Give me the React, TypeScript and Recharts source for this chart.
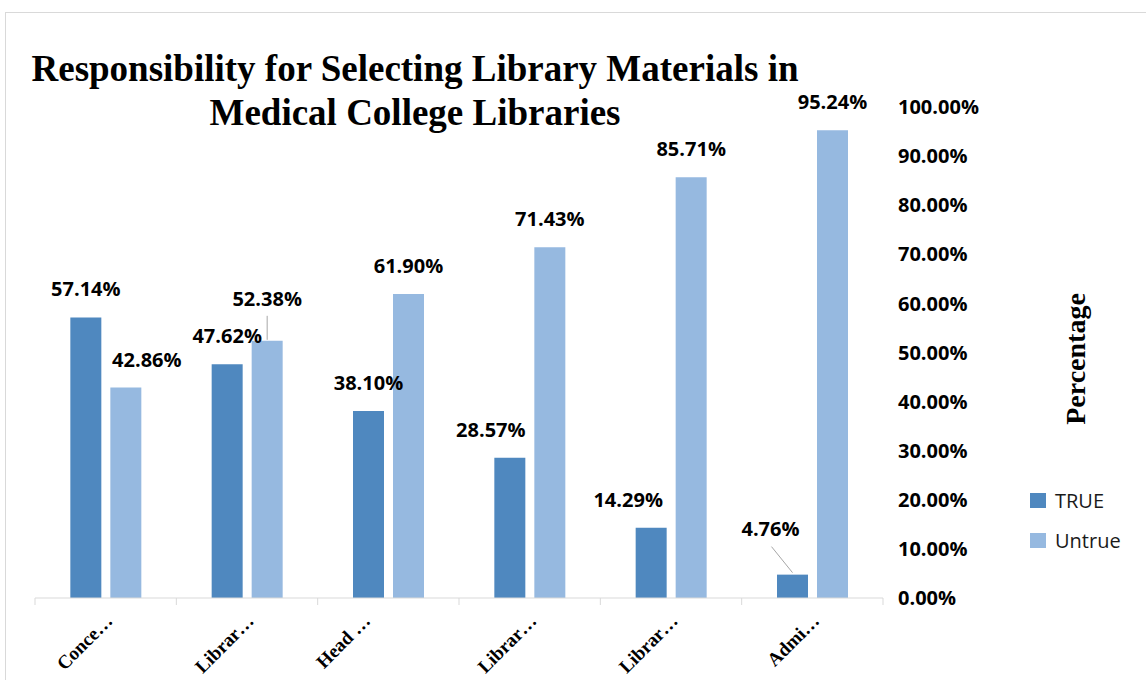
import { Bar, BarChart, XAxis, YAxis, Legend, LabelList } from "recharts"

const categories = ["Conce…", "Librar…", "Head …", "Librar…", "Librar…", "Admi…"]
const trueValues = [57.14, 47.62, 38.1, 28.57, 14.29, 4.76]
const untrueValues = [42.86, 52.38, 61.9, 71.43, 85.71, 95.24]
const yTicks = [0, 10, 20, 30, 40, 50, 60, 70, 80, 90, 100]

const data = categories.map((name, i) => ({
  name,
  TRUE: trueValues[i],
  Untrue: untrueValues[i],
}))

const W = 1146
const H = 680
const LEFT = 35
const AXIS_W = 263
const BAND = (W - LEFT - AXIS_W) / categories.length
const SERIF = '"Liberation Serif", "Times New Roman", serif'
const SANS = '"Open Sans", sans-serif'
const DARK = "#4f88bf"
const LIGHT = "#96b9e0"

// the "Head …" label sits further left than the others in the original
const tickShift = [0, 0, -25, 0, 0, 0]

function CategoryTick(props: any) {
  const { x, y, payload, index } = props
  const half = BAND / 2
  const ax = x + 8 + (tickShift[index] || 0)
  const ay = y + 24
  return (
    <g>
      <line x1={x - half} y1={y} x2={x - half} y2={y + 7} stroke="#d9d9d9" />
      {index === categories.length - 1 && (
        <line x1={x + half} y1={y} x2={x + half} y2={y + 7} stroke="#d9d9d9" />
      )}
      <text
        x={ax}
        y={ay}
        textAnchor="end"
        transform={`rotate(-45, ${ax}, ${ay})`}
        fontFamily={SERIF}
        fontWeight={700}
        fontSize={19}
        fill="#000"
      >
        {payload.value}
      </text>
    </g>
  )
}

function makeLabel(series: "TRUE" | "Untrue") {
  return (props: any) => {
    const x = Number(props.x)
    const y = Number(props.y)
    const width = Number(props.width)
    const { value, index } = props
    const cx = x + width / 2
    let tx = cx
    let ty = y - 21
    let leader = null
    if (series === "Untrue" && index === 0) tx = cx + 21
    if (series === "TRUE" && index === 3) tx = cx - 19
    if (series === "TRUE" && index === 4) tx = cx - 23
    if (series === "Untrue" && index === 1) {
      ty = y - 35
      leader = <line x1={cx} y1={y - 25} x2={cx} y2={y - 1} stroke="#a6a6a6" />
    }
    if (series === "TRUE" && index === 5) {
      tx = cx - 22
      ty = y - 39
      leader = <line x1={cx - 21} y1={y - 28} x2={cx} y2={y - 2} stroke="#a6a6a6" />
    }
    return (
      <g>
        {leader}
        <text x={tx} y={ty} textAnchor="middle" fontFamily={SANS} fontWeight={700} fontSize={20} fill="#000">
          {Number(value).toFixed(2)}%
        </text>
      </g>
    )
  }
}

function LegendContent(props: any) {
  const { payload } = props
  return (
    <div>
      {payload.map((p: any) => (
        <div key={p.value} style={{ display: "flex", alignItems: "center", height: 40 }}>
          <span style={{ width: 16, height: 15, background: p.color, display: "inline-block" }} />
          <span style={{ marginLeft: 9, fontFamily: SANS, fontSize: 20, color: "#1a1a1a" }}>{p.value}</span>
        </div>
      ))}
    </div>
  )
}

export default function App() {
  return (
    <div style={{ position: "absolute", left: 0, top: 0, width: W, height: H, background: "#fff", overflow: "hidden" }}>
      <div
        style={{
          position: "absolute",
          left: 5,
          top: 12,
          width: W,
          height: H,
          borderTop: "1px solid #d9d9d9",
          borderLeft: "1px solid #d9d9d9",
        }}
      />
      <div
        style={{
          position: "absolute",
          left: 0,
          top: 47,
          width: 830,
          textAlign: "center",
          fontFamily: SERIF,
          fontWeight: 700,
          fontSize: 37,
          lineHeight: "44px",
          color: "#000",
        }}
      >
        Responsibility for Selecting Library Materials in
        <br />
        Medical College Libraries
      </div>
      <div
        style={{
          position: "absolute",
          left: 1076,
          top: 359,
          transform: "translate(-50%, -50%) rotate(-90deg)",
          whiteSpace: "nowrap",
          fontFamily: SERIF,
          fontWeight: 700,
          fontSize: 28,
          color: "#000",
        }}
      >
        Percentage
      </div>
      <div style={{ position: "absolute", left: 0, top: 0 }}>
        <BarChart
          width={W}
          height={H}
          data={data}
          margin={{ top: 107, right: 0, bottom: 0, left: LEFT }}
          barCategoryGap="25%"
          barGap={9}
        >
          <XAxis
            dataKey="name"
            height={82}
            interval={0}
            tickLine={false}
            tickSize={0}
            tickMargin={0}
            axisLine={{ stroke: "#d9d9d9" }}
            tick={<CategoryTick />}
          />
          <YAxis
            orientation="right"
            width={AXIS_W}
            domain={[0, 100]}
            ticks={yTicks}
            interval={0}
            axisLine={false}
            tickLine={false}
            tickSize={6}
            tickMargin={9}
            tickFormatter={(v: number) => `${v.toFixed(2)}%`}
            tick={{ fill: "#000", fontSize: 20, fontWeight: 700, fontFamily: SANS, textAnchor: "start" }}
          />
          <Legend
            layout="vertical"
            align="center"
            verticalAlign="middle"
            wrapperStyle={{ left: 1030, top: 480, width: 110 }}
            content={<LegendContent />}
          />
          <Bar dataKey="TRUE" name="TRUE" fill={DARK} isAnimationActive={false}>
            <LabelList dataKey="TRUE" content={makeLabel("TRUE")} />
          </Bar>
          <Bar dataKey="Untrue" name="Untrue" fill={LIGHT} isAnimationActive={false}>
            <LabelList dataKey="Untrue" content={makeLabel("Untrue")} />
          </Bar>
        </BarChart>
      </div>
    </div>
  )
}
